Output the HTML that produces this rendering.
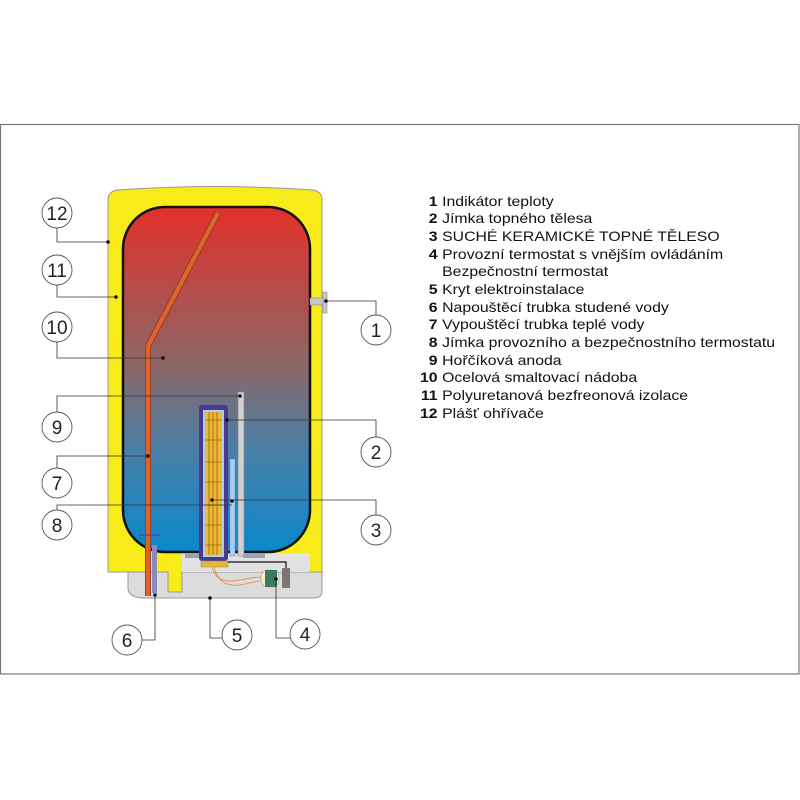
<!DOCTYPE html>
<html><head><meta charset="utf-8"><style>
html,body{margin:0;padding:0;background:#fff;width:800px;height:800px;overflow:hidden}
svg{display:block}
</style></head><body>
<svg width="800" height="800" viewBox="0 0 800 800" xmlns="http://www.w3.org/2000/svg" font-family="Liberation Sans, Arial, sans-serif">
<defs>
<linearGradient id="tank" x1="0" y1="0" x2="0" y2="1">
<stop offset="0" stop-color="#e3302a"/>
<stop offset="0.45" stop-color="#8e6565"/>
<stop offset="0.7" stop-color="#4a7fa6"/>
<stop offset="1" stop-color="#0a88cc"/>
</linearGradient>
</defs>
<rect x="0.5" y="124.5" width="798.5" height="549.5" fill="#fff" stroke="#777" stroke-width="1.2"/>
<path d="M128 572 L322 572 L322 592 Q322 598 312 598 L140 598 Q128 596 128 588 Z" fill="#dcdcdc" stroke="#999" stroke-width="1"/>
<path d="M108 200 Q108 191 118 190 Q215 183 312 190 Q322 191 322 200 L322 572 L182 572 L182 592 L168 592 L168 572 L108 572 Z" fill="#f7ec1a" stroke="#999" stroke-width="1"/>
<rect x="182" y="553" width="128" height="19" fill="#e2e2e2"/>
<rect x="123" y="207" width="187" height="345" rx="42" ry="42" fill="url(#tank)" stroke="#111" stroke-width="2.5"/>
<rect x="310" y="298" width="15" height="7" fill="#c8c8c8" stroke="#888" stroke-width="0.6"/>
<rect x="323" y="292" width="4" height="21" fill="#c8c8c8" stroke="#888" stroke-width="0.6"/>
<polyline points="218,213 148,346 148,596" fill="none" stroke="#7a3a1a" stroke-width="6"/>
<polyline points="218,213 148,346 148,596" fill="none" stroke="#e0622c" stroke-width="4.5"/>
<line x1="138" y1="535" x2="160" y2="535" stroke="#5a4aa0" stroke-width="1.5"/>
<rect x="152" y="545" width="5" height="48" fill="#8a88c0"/>
<rect x="185" y="553" width="14" height="5" fill="#9aa0b8"/>
<rect x="243" y="553" width="22" height="5" fill="#9aa0b8"/>
<rect x="238" y="392" width="6" height="164" fill="#d0d0d0" stroke="#888" stroke-width="0.6"/>
<rect x="230" y="459" width="5" height="97" fill="#a8d0f0" stroke="#6a90c0" stroke-width="0.6"/>
<rect x="199" y="405" width="29" height="156" rx="3" fill="#4a3a8e"/>
<rect x="203" y="410" width="21" height="147" fill="#a8d0f0"/>
<rect x="205" y="412" width="17" height="143" fill="#f0b830"/>
<g stroke="#6a5010" stroke-width="0.6">
<line x1="209" y1="412" x2="209" y2="555"/><line x1="213" y1="412" x2="213" y2="555"/><line x1="217" y1="412" x2="217" y2="555"/>
<line x1="205" y1="420" x2="222" y2="420"/><line x1="205" y1="440" x2="222" y2="440"/><line x1="205" y1="462" x2="222" y2="462"/><line x1="205" y1="482" x2="222" y2="482"/><line x1="205" y1="505" x2="222" y2="505"/><line x1="205" y1="525" x2="222" y2="525"/><line x1="205" y1="545" x2="222" y2="545"/>
</g>
<rect x="201" y="561" width="27" height="6" fill="#e8b830" stroke="#888" stroke-width="0.5"/>
<path d="M228 562 L286 562 L286 572" fill="none" stroke="#111" stroke-width="1.2"/>
<path d="M212 567 Q216 585 240 580 T270 578" fill="none" stroke="#e08850" stroke-width="0.8"/>
<path d="M214 567 Q220 590 245 584 T268 582" fill="none" stroke="#e08850" stroke-width="0.8"/>
<rect x="261" y="570" width="18" height="17" rx="7" fill="#f5f0c0" stroke="#999" stroke-width="0.6"/>
<rect x="265" y="570" width="12" height="17" fill="#3e7a5e"/>
<rect x="282" y="568" width="8" height="20" fill="#777"/>
<g fill="none" stroke="#333" stroke-width="0.8">
<polyline points="57,228 57,242 108,242"/>
<polyline points="57,285 57,297 116,297"/>
<polyline points="57,342 57,358 163,358"/>
<polyline points="57,412 57,396 240,396"/>
<polyline points="57,468 57,456 148,456"/>
<polyline points="57,510 57,505 232,505"/>
<polyline points="326,301 376,301 376,315"/>
<polyline points="227,420 376,420 376,437"/>
<polyline points="212,500 376,500 376,515"/>
<polyline points="142,640 155,640 155,595"/>
<polyline points="222,638 210,638 210,598"/>
<polyline points="290,638 276,638 276,578"/>
</g>
<g fill="#111">
<circle cx="108" cy="242" r="1.8"/><circle cx="116" cy="297" r="1.8"/><circle cx="163" cy="358" r="1.8"/><circle cx="240" cy="396" r="1.8"/><circle cx="148" cy="456" r="1.8"/><circle cx="212" cy="500" r="1.8"/><circle cx="232" cy="501" r="1.8"/><circle cx="326" cy="301" r="1.8"/><circle cx="227" cy="420" r="1.8"/><circle cx="155" cy="595" r="1.8"/><circle cx="210" cy="598" r="1.8"/><circle cx="276" cy="579" r="1.8"/>
</g>
<g fill="#fff" stroke="#555" stroke-width="0.9">
<circle cx="57" cy="213" r="15"/><circle cx="57" cy="270" r="15"/><circle cx="57" cy="327" r="15"/><circle cx="57" cy="427" r="15"/><circle cx="57" cy="483" r="15"/><circle cx="57" cy="525" r="15"/>
<circle cx="376" cy="330" r="15"/><circle cx="376" cy="452" r="15"/><circle cx="376" cy="530" r="15"/>
<circle cx="127" cy="640" r="15"/><circle cx="237" cy="635" r="15"/><circle cx="305" cy="634" r="15"/>
</g>
<g font-size="19" fill="#222" text-anchor="middle">
<text x="57" y="220">12</text><text x="57" y="277">11</text><text x="57" y="334">10</text><text x="57" y="434">9</text><text x="57" y="490">7</text><text x="57" y="532">8</text>
<text x="376" y="337">1</text><text x="376" y="459">2</text><text x="376" y="537">3</text>
<text x="127" y="647">6</text><text x="237" y="642">5</text><text x="305" y="641">4</text>
</g>
<g font-size="14" fill="#111" transform="translate(441,0) scale(1.13,1) translate(-441,0)">
<g font-weight="bold" text-anchor="end">
<text x="438" y="206">1</text><text x="438" y="223">2</text><text x="438" y="241">3</text><text x="438" y="259">4</text><text x="438" y="294">5</text><text x="438" y="312">6</text><text x="438" y="329">7</text><text x="438" y="347">8</text><text x="438" y="365">9</text><text x="438" y="382">10</text><text x="438" y="400">11</text><text x="438" y="418">12</text>
</g>
<text x="442" y="206">Indikátor teploty</text>
<text x="442" y="223">Jímka topného tělesa</text>
<text x="442" y="241">SUCHÉ KERAMICKÉ TOPNÉ TĚLESO</text>
<text x="442" y="259">Provozní termostat s vnějším ovládáním</text>
<text x="442" y="276">Bezpečnostní termostat</text>
<text x="442" y="294">Kryt elektroinstalace</text>
<text x="442" y="312">Napouštěcí trubka studené vody</text>
<text x="442" y="329">Vypouštěcí trubka teplé vody</text>
<text x="442" y="347">Jímka provozního a bezpečnostního termostatu</text>
<text x="442" y="365">Hořčíková anoda</text>
<text x="442" y="382">Ocelová smaltovací nádoba</text>
<text x="442" y="400">Polyuretanová bezfreonová izolace</text>
<text x="442" y="418">Plášť ohřívače</text>
</g>
</svg>
</body></html>
